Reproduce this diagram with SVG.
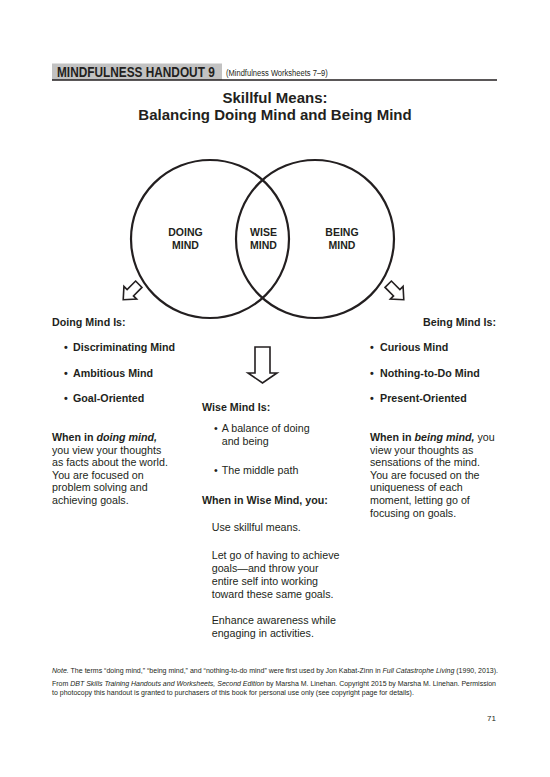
<svg xmlns="http://www.w3.org/2000/svg" width="550" height="777" viewBox="0 0 550 777">
<style>
text { font-family: "Liberation Sans", Arial, sans-serif; fill: #231f20; }
.b { font-weight: bold; }
.t { font-size: 10.7px; }
.title { font-size: 15px; font-weight: bold; text-anchor: middle; }
.venn { font-size: 10.5px; font-weight: bold; text-anchor: middle; }
.circle { fill: none; stroke: #231f20; stroke-width: 2.2; }
.arrow { fill: #fff; stroke: #231f20; stroke-width: 1.6; stroke-linejoin: miter; }
.foot { font-size: 7px; }
</style>
<defs>
<polygon id="sideArrow" points="-4.5,-11 4.5,-11 4.5,1 9,1 0,11 -9,1 -4.5,1"/>
</defs>
<rect width="550" height="777" fill="#fff"/>

<g id="header">
<rect x="52" y="63.5" width="170" height="16.5" fill="#c2c2c2"/>
<line x1="52" y1="80" x2="497" y2="80" stroke="#231f20" stroke-width="1.5"/>
<text transform="translate(57,77) scale(0.846,1)" font-size="14" font-weight="bold">MINDFULNESS HANDOUT 9</text>
<text transform="translate(226,76) scale(0.84,1)" font-size="9">(Mindfulness Worksheets 7–9)</text>
</g>

<g id="title">
<text class="title" x="275" y="103">Skillful Means:</text>
<text class="title" x="275" y="120">Balancing Doing Mind and Being Mind</text>
</g>

<g id="doing-mind-circle">
<circle class="circle" cx="210" cy="239" r="79"/>
<text class="venn" x="185.5" y="236">DOING</text>
<text class="venn" x="185.5" y="249.3">MIND</text>
</g>
<g id="being-mind-circle">
<circle class="circle" cx="315" cy="239" r="79"/>
<text class="venn" x="342" y="236">BEING</text>
<text class="venn" x="342" y="249.3">MIND</text>
</g>
<g id="wise-mind-overlap">
<text class="venn" x="263.5" y="236">WISE</text>
<text class="venn" x="263.5" y="249.3">MIND</text>
</g>

<g id="connectors">
<use href="#sideArrow" class="arrow" transform="translate(131,292) rotate(45)"/>
<use href="#sideArrow" class="arrow" transform="translate(396,292) rotate(-45)"/>
<polygon class="arrow" points="255,347 270,347 270,373 277,373 262.5,383 248,373 255,373"/>
</g>

<g id="doing-mind-column">
<text class="t b" x="52" y="326">Doing Mind Is:</text>
<text class="t b" x="64" y="351">•</text><text class="t b" x="73" y="351">Discriminating Mind</text>
<text class="t b" x="64" y="376.7">•</text><text class="t b" x="73" y="376.7">Ambitious Mind</text>
<text class="t b" x="64" y="402.3">•</text><text class="t b" x="73" y="402.3">Goal-Oriented</text>
<text class="t" x="52" y="441"><tspan class="b">When in </tspan><tspan class="b" font-style="italic">doing mind,</tspan></text>
<text class="t" x="52" y="453.6">you view your thoughts</text>
<text class="t" x="52" y="466.2">as facts about the world.</text>
<text class="t" x="52" y="478.8">You are focused on</text>
<text class="t" x="52" y="491.4">problem solving and</text>
<text class="t" x="52" y="504">achieving goals.</text>
</g>

<g id="being-mind-column">
<text class="t b" x="496" y="326" text-anchor="end">Being Mind Is:</text>
<text class="t b" x="370" y="351">•</text><text class="t b" x="380" y="351">Curious Mind</text>
<text class="t b" x="370" y="376.7">•</text><text class="t b" x="380" y="376.7">Nothing-to-Do Mind</text>
<text class="t b" x="370" y="402.3">•</text><text class="t b" x="380" y="402.3">Present-Oriented</text>
<text class="t" x="370" y="441"><tspan class="b">When in </tspan><tspan class="b" font-style="italic">being mind,</tspan> you</text>
<text class="t" x="370" y="453.6">view your thoughts as</text>
<text class="t" x="370" y="466.2">sensations of the mind.</text>
<text class="t" x="370" y="478.8">You are focused on the</text>
<text class="t" x="370" y="491.4">uniqueness of each</text>
<text class="t" x="370" y="504">moment, letting go of</text>
<text class="t" x="370" y="516.6">focusing on goals.</text>
</g>

<g id="wise-mind-column">
<text class="t b" x="202" y="410.7">Wise Mind Is:</text>
<text class="t" x="214" y="431.7">•</text><text class="t" x="221.7" y="431.7">A balance of doing</text>
<text class="t" x="221.7" y="444.7">and being</text>
<text class="t" x="214" y="474.3">•</text><text class="t" x="221.7" y="474.3">The middle path</text>
<text class="t b" x="202" y="504.3">When in Wise Mind, you:</text>
<text class="t" x="211.7" y="531">Use skillful means.</text>
<text class="t" x="211.7" y="559">Let go of having to achieve</text>
<text class="t" x="211.7" y="572">goals—and throw your</text>
<text class="t" x="211.7" y="585">entire self into working</text>
<text class="t" x="211.7" y="598">toward these same goals.</text>
<text class="t" x="211.7" y="624">Enhance awareness while</text>
<text class="t" x="211.7" y="637">engaging in activities.</text>
</g>

<g id="footer">
<text class="foot" x="52" y="672.5" textLength="446" lengthAdjust="spacingAndGlyphs"><tspan font-style="italic">Note.</tspan> The terms “doing mind,” “being mind,” and “nothing-to-do mind” were first used by Jon Kabat-Zinn in <tspan font-style="italic">Full Catastrophe Living</tspan> (1990, 2013).</text>
<text class="foot" x="52" y="686" textLength="444" lengthAdjust="spacingAndGlyphs">From <tspan font-style="italic">DBT Skills Training Handouts and Worksheets, Second Edition</tspan> by Marsha M. Linehan. Copyright 2015 by Marsha M. Linehan. Permission</text>
<text class="foot" x="52" y="694.5">to photocopy this handout is granted to purchasers of this book for personal use only (see copyright page for details).</text>
<text x="496" y="721" font-size="8" text-anchor="end">71</text>
</g>
</svg>
